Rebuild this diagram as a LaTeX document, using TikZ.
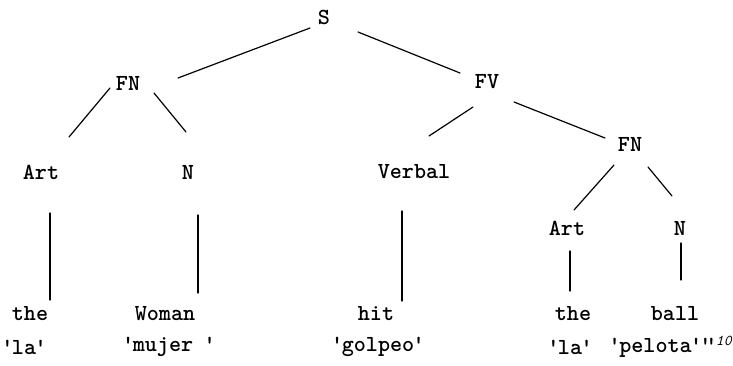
\documentclass[tikz,border=0pt]{standalone}
\usepackage{textcomp}
\usetikzlibrary{positioning, calc}

\newcommand{\q}{\kern-1.5pt\textquotesingle\kern-1.5pt}
\tikzset{
  lab/.style={font=\fontsize{23}{26}\selectfont\ttfamily\bfseries, inner sep=0pt},
  branch/.style={line width=1.2pt, line cap=round}
}

\begin{document}
\begin{tikzpicture}[x=1pt, y=-1pt] % pixel units, y goes down
   \useasboundingbox (0,0) rectangle (733,365);
   % category labels
   \node[lab] (S)      at (324,17)  {S};
   \node[lab] (FNa)    at (128,83)  {FN};
   \node[lab] (FV)     at (487,82)  {FV};
   \node[lab] (FNb)    at (630,144) {FN};
   \node[lab] (Arta)   at (41,172)  {Art};
   \node[lab] (Na)     at (188,172) {N};
   \node[lab] (Verbal) at (414,172) {Verbal};
   \node[lab] (Artb)   at (567,228) {Art};
   \node[lab] (Nb)     at (680,228) {N};
   % words and glosses
   \node[lab] (thea)   at (30,314)  {the};
   \node[lab] (woman)  at (165,314) {Woman};
   \node[lab] (hit)    at (376,314) {hit};
   \node[lab] (theb)   at (573,314) {the};
   \node[lab] (ball)   at (675,314) {ball};
   \node[lab] (laa)    at (24,347)  {\q la\q};
   \node[lab] (mujer)  at (169,347) {\q mujer \q};
   \node[lab] (golpeo) at (378,347) {\q golpeo\q};
   \node[lab] (lab)    at (570,347) {\q la\q};
   \node[lab, anchor=west] (pelota) at (610,347)
     {\q pelota\q\q\kern-3pt\q\raisebox{7pt}{\fontsize{15}{16}\selectfont\mdseries\itshape 10}};
   % branches
   \draw[branch] ($(S)+(-14,11)$) -- ($(FNa)+(50,-5)$);
   \draw[branch] ($(S)+(34,15)$) -- ($(FV)+(-27,-9)$);
   \draw[branch] ($(FNa)+(-18,5)$) -- ($(Arta)+(28,-35)$);
   \draw[branch] ($(FNa)+(26,10)$) -- ($(Na)+(-2,-40)$);
   \draw[branch] ($(FV)+(-14,25)$) -- ($(Verbal)+(15,-36)$);
   \draw[branch] ($(FV)+(27,20)$) -- ($(FNb)+(-25,-6)$);
   \draw[branch] ($(FNb)+(-16,21)$) -- ($(Artb)+(7,-18)$);
   \draw[branch] ($(FNb)+(18,23)$) -- ($(Nb)+(-8,-32)$);
   % lexical stems
   \draw[branch] ($(Arta)+(9,41)$) -- ($(thea)+(20,-14)$);
   \draw[branch] ($(Na)+(10,43)$) -- ($(woman)+(33,-21)$);
   \draw[branch] ($(Verbal)+(-12,39)$) -- ($(hit)+(26,-13)$);
   \draw[branch] ($(Artb)+(3,23)$) -- ($(theb)+(-3,-23)$);
   \draw[branch] ($(Nb)+(1,15)$) -- ($(ball)+(6,-34)$);
\end{tikzpicture}
\end{document}
